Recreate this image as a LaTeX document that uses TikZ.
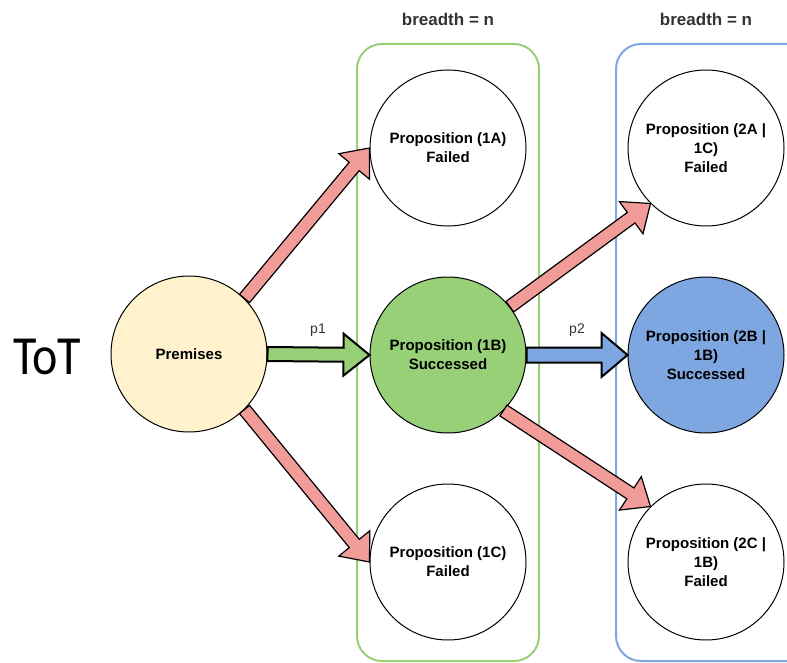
\documentclass[tikz,border=0pt]{standalone}
\usepackage{fontspec}
\setmainfont{Liberation Sans}
\newfontfamily\totfont{Carlito}
\usetikzlibrary{calc}

\definecolor{premfill}{HTML}{FFF2CC}
\definecolor{okfill}{HTML}{97D077}
\definecolor{bluefill}{HTML}{7EA6E0}
\definecolor{redfill}{HTML}{F19C99}
\definecolor{labelgray}{HTML}{333333}

% Flat block arrow: #1 style, #2 tail, #3 tip, #4 shaft half width,
% #5 head half width, #6 head length
\newcommand\blockarrow[6]{%
  \coordinate (ba-base) at ($(#3)!#6!(#2)$);
  \draw[#1] ($(#2)!#4!90:(#3)$) -- ($(ba-base)!#4!-90:(#2)$)
    -- ($(ba-base)!#5!-90:(#2)$) -- (#3)
    -- ($(ba-base)!#5!90:(#2)$) -- ($(ba-base)!#4!90:(#2)$)
    -- ($(#2)!#4!-90:(#3)$) -- cycle;
}

\tikzset{
  bubble/.style={circle, draw=black, line width=1pt, minimum size=156pt,
    inner sep=0pt, align=center, text=black,
    font=\fontsize{15}{19}\selectfont\bfseries},
  column/.style={line width=2pt, rounded corners=25pt},
  heading/.style={text=labelgray, font=\fontsize{17}{20}\selectfont\bfseries},
  edgelabel/.style={text=labelgray, font=\fontsize{14}{16}\selectfont},
  redarrow/.style={fill=redfill, draw=black, line width=1.2pt, line join=miter},
  greenarrow/.style={fill=okfill, draw=black, line width=2pt, line join=miter},
  bluearrow/.style={fill=bluefill, draw=black, line width=2pt, line join=miter},
}

\begin{document}
\begin{tikzpicture}[x=1pt, y=-1pt]
  \useasboundingbox (0,0) rectangle (787,663);
  \clip (0,0) rectangle (787,663);

  % columns of one breadth level each
  \draw[column, draw=okfill] (357,44) rectangle (539,661);
  \draw[column, draw=bluefill] (616,44) rectangle (812,661);
  \node[heading] (h1) at (448,19) {breadth = n};
  \node[heading] (h2) at (706,19) {breadth = n};

  \node[text=black, font=\totfont\fontsize{48}{48}\selectfont,
        yscale=1.15, transform shape] (tot) at (47,357) {ToT};

  % states
  \node[bubble, fill=premfill] (pre) at (189,354) {Premises};
  \node[bubble, fill=white] (p1a) at (448,148) {Proposition (1A)\\Failed};
  \node[bubble, fill=okfill] (p1b) at (448,355) {Proposition (1B)\\Successed};
  \node[bubble, fill=white] (p1c) at (448,562) {Proposition (1C)\\Failed};
  \node[bubble, fill=white] (p2a) at (706,148) {Proposition (2A |\\1C)\\Failed};
  \node[bubble, fill=bluefill] (p2b) at (706,355) {Proposition (2B |\\1B)\\Successed};
  \node[bubble, fill=white] (p2c) at (706,562) {Proposition (2C |\\1B)\\Failed};

  % transitions
  \blockarrow{redarrow}{pre.45}{p1a.west}{6.5pt}{20pt}{24pt}
  \blockarrow{redarrow}{pre.-45}{p1c.west}{6.5pt}{20pt}{24pt}
  \blockarrow{redarrow}{p1b.38}{p2a.225}{6.5pt}{20pt}{24pt}
  \blockarrow{redarrow}{p1b.-45}{p2c.135}{6.5pt}{20pt}{24pt}
  \blockarrow{greenarrow}{pre.east}{p1b.west}{7pt}{21pt}{26pt}
  \blockarrow{bluearrow}{p1b.east}{p2b.west}{7.5pt}{22pt}{26pt}

  \node[edgelabel] (l1) at (318,330) {p1};
  \node[edgelabel] (l2) at (577,330) {p2};
\end{tikzpicture}
\end{document}
